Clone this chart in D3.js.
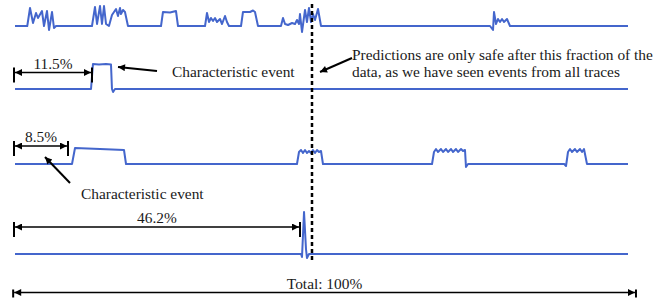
<!DOCTYPE html>
<meta charset="utf-8">
<style>
  body { margin: 0; background: #fff; }
  text { font-family: "Liberation Serif", "Times New Roman", serif; font-size: 15.4px; fill: #1a1a1a; }
</style>
<svg width="667" height="301"></svg>
<script src="https://cdn.jsdelivr.net/npm/d3@7/dist/d3.min.js"></script>
<script>
	// each trace: [position in % of the data, signal level]
	var trace1 = [[0,0],[2.0,0],[2.45,1.8],[2.94,0.3],[3.43,1.3],[3.75,0.8],[4.4,1.5],[4.73,0],[5.22,1.5],[5.55,-0.4],[6.04,1.4],[6.36,-0.2],[6.69,0],
		[12.56,0],[13.05,1.9],[13.38,0.2],[13.87,2.0],[14.19,0.2],[14.52,2.0],[14.85,0.2],[15.33,0],[15.82,1.1],[16.48,1.7],[16.8,1.0],[17.13,1.8],[17.29,1.2],[17.62,1.6],[17.94,1.4],[18.43,0],
		[23.82,0],[24.14,1.4],[25.29,1.35],[26.26,1.5],[26.59,0],
		[31.0,0],[31.32,1.3],[31.65,0.4],[31.97,0.8],[32.3,0.5],[32.63,0.8],[32.95,0.4],[33.44,0.7],[33.77,0.2],[34.26,1.0],[34.58,0.4],[34.91,0],
		[36.87,0],[37.19,1.4],[38.34,1.4],[38.83,1.55],[39.15,1.4],[39.64,0],
		[43.39,0],[43.72,0.8],[44.05,0.2],[44.54,0.1],[45.19,0.3],[45.68,0.2],[46.0,0.6],[46.33,0.2],[46.49,1.2],[46.82,-0.6],[47.31,1.6],[47.63,0.4],[47.96,1.8],[48.29,0.4],[48.61,1.2],[48.94,0.6],[49.43,1.7],[49.92,0],
		[77.49,0],[77.98,-0.4],[78.14,1.4],[78.47,0.2],[78.79,0.7],[79.12,0.4],[79.45,0.7],[79.77,0.4],[80.26,0.7],[80.75,0],
		[100,0]];
	var trace2 = [[0,0],[12.4,0],[12.72,2.5],[13.7,2.45],[14.85,2.5],[15.66,2.45],[15.82,0],[16.0,-0.3],[16.31,0],[100,0]];
	var trace3 = [[0,0],[9.3,0],[9.79,1.6],[13.87,1.5],[17.78,1.4],[18.11,0],[18.43,0],
		[46.0,0],[46.33,1.2],[46.66,1.4],[46.98,1.1],[47.31,1.4],[47.63,1.1],[47.96,1.3],[48.29,1.1],[48.61,1.4],[48.94,1.1],[49.27,1.4],[49.59,1.2],[49.92,1.3],[50.24,0],
		[68.03,0],[68.35,1.2],[68.68,1.5],[69.0,1.2],[69.49,1.5],[69.82,1.2],[70.31,1.5],[70.64,1.2],[71.13,1.5],[71.45,1.2],[71.94,1.5],[72.27,1.2],[72.76,1.5],[73.08,1.3],[73.41,1.4],[73.57,-0.3],[73.9,0],
		[89.6,0],[89.89,-0.2],[90.21,1.2],[90.54,1.5],[90.86,1.2],[91.35,1.5],[91.68,1.2],[92.17,1.5],[92.5,1.2],[92.82,1.5],[93.31,0],[100,0]];
	var trace4 = [[0,0],[46.66,0],[46.82,-0.3],[47.15,4.2],[47.47,0.5],[47.63,-0.4],[47.96,0],[100,0]];
	var traces = [trace1, trace2, trace3, trace4];

	// spans from the start to the characteristic event of a trace
	var spanLabels = ["11.5%", "8.5%", "46.2%"];
	var spanEnds = [12.56, 8.65, 46.49];
	var totalLabel = "Total: 100%";
	var totalSpan = [-0.3, 101.3];
	var safePoint = 48.45;

	var noteLabel = "Characteristic event";
	var safeLines = ["Predictions are only safe after this fraction of the", "data, as we have seen events from all traces"];

	var svg = d3.select("svg");
	var x = d3.scaleLinear().domain([0, 100]).range([15, 628]);
	var y = d3.scaleLinear().domain([0, 1]).range([0, -10]);
	var rowBase = [26, 89, 164, 254];
	var spanY = [72.5, 146, 227];
	var totalY = 292.5;

	var defs = svg.append("defs");
	defs.append("marker")
		.attr("id", "head")
		.attr("viewBox", "0 0 10 10")
		.attr("refX", 10).attr("refY", 5)
		.attr("markerUnits", "userSpaceOnUse")
		.attr("markerWidth", 10).attr("markerHeight", 7)
		.attr("orient", "auto-start-reverse")
		.append("path").attr("d", "M0,0L10,5L0,10Z").attr("fill", "#000");

	var line = d3.line().x(function(d) { return x(d[0]); }).y(function(d) { return y(d[1]); });

	svg.selectAll(".trace")
		.data(traces)
		.enter().append("path")
		.attr("class", "trace")
		.attr("transform", function(d, i) { return "translate(0," + rowBase[i] + ")"; })
		.attr("fill", "none")
		.attr("stroke", "#4466cc")
		.attr("stroke-width", 2)
		.attr("stroke-linejoin", "round")
		.attr("d", line);

	// dashed "safe" marker
	svg.append("line")
		.attr("x1", x(safePoint)).attr("x2", x(safePoint))
		.attr("y1", 4).attr("y2", 262)
		.attr("stroke", "#000")
		.attr("stroke-width", 2.5)
		.attr("stroke-dasharray", "4,3");

	function span(x0, x1, yy, label, tickUp, tickDown) {
		var g = svg.append("g");
		[x0, x1].forEach(function(v) {
			g.append("line").attr("x1", v).attr("x2", v)
				.attr("y1", yy - tickUp).attr("y2", yy + tickDown)
				.attr("stroke", "#000").attr("stroke-width", 2);
		});
		g.append("line")
			.attr("x1", x0 + 1).attr("x2", x1 - 1)
			.attr("y1", yy).attr("y2", yy)
			.attr("stroke", "#000").attr("stroke-width", 1.5)
			.attr("marker-start", "url(#head)")
			.attr("marker-end", "url(#head)");
		g.append("text")
			.attr("x", (x0 + x1) / 2).attr("y", yy - 4)
			.attr("text-anchor", "middle")
			.text(label);
	}

	spanLabels.forEach(function(lab, i) {
		span(x(0) - 1, x(spanEnds[i]), spanY[i], lab, 5, 10);
	});
	span(x(totalSpan[0]), x(totalSpan[1]), totalY, totalLabel, 3, 5);

	function arrow(x1, y1, x2, y2) {
		svg.append("line")
			.attr("x1", x1).attr("y1", y1).attr("x2", x2).attr("y2", y2)
			.attr("stroke", "#000").attr("stroke-width", 2)
			.attr("marker-end", "url(#head)");
	}

	// annotations
	arrow(157, 71, 118, 67);
	svg.append("text").attr("x", 172).attr("y", 77).text(noteLabel);

	arrow(70, 183, 45, 157);
	svg.append("text").attr("x", 81).attr("y", 199).text(noteLabel);

	arrow(352, 58, 320, 72);
	svg.append("text").attr("x", 352).attr("y", 60)
		.selectAll("tspan").data(safeLines).enter().append("tspan")
		.attr("x", 352).attr("dy", function(d, i) { return i ? 17 : 0; })
		.text(function(d) { return d; });
</script>
